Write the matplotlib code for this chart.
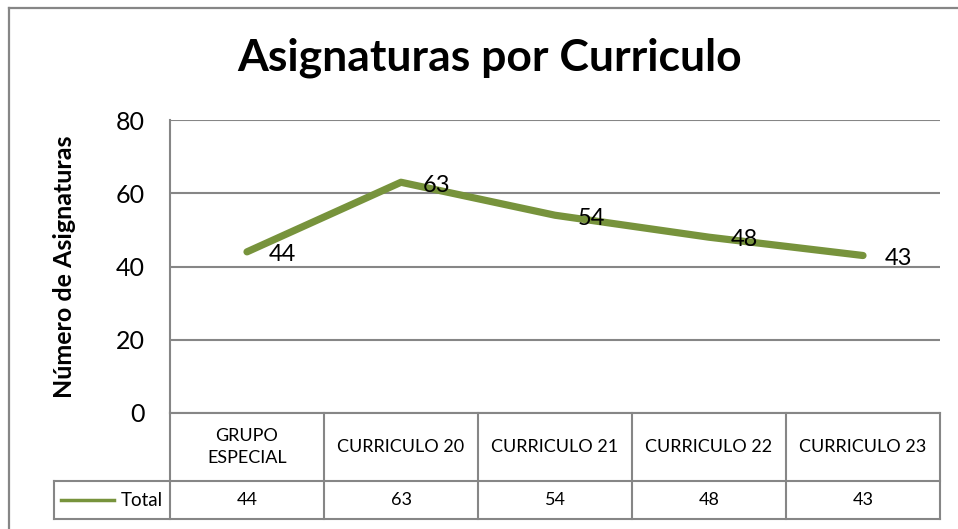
import matplotlib.pyplot as plt
from matplotlib.transforms import blended_transform_factory
from matplotlib.lines import Line2D

# --- Data ---
categories = ["GRUPO\nESPECIAL", "CURRICULO 20", "CURRICULO 21", "CURRICULO 22", "CURRICULO 23"]
totals = [44, 63, 54, 48, 43]
y_ticks = [0, 20, 40, 60, 80]
series_name = "Total"

# --- Style ---
GREEN = "#77933C"
GRID = "#868686"
W, H = 958, 529
plt.rcParams["font.family"] = ["Lato", "DejaVu Sans"]

fig = plt.figure(figsize=(W / 100, H / 100), dpi=100)

def px_rect(x0, y0, x1, y1):
    """Pixel box (top-left origin) -> figure fraction rect."""
    return [x0 / W, 1 - y1 / H, (x1 - x0) / W, (y1 - y0) / H]

# outer chart border (right/bottom are cut off in the picture)
fig.add_artist(Line2D([9 / W, 9 / W], [0, 1 - 8 / H], color=GRID, lw=1.6))
fig.add_artist(Line2D([9 / W, 1], [1 - 8 / H, 1 - 8 / H], color=GRID, lw=1.6))

ax = fig.add_axes(px_rect(170, 120, 940, 413))
x = list(range(len(categories)))
ax.plot(x, totals, color=GREEN, lw=5.2, solid_capstyle="round", solid_joinstyle="round", zorder=3)
for xi, v in zip(x, totals):
    ax.annotate(str(v), (xi, v), xytext=(16, -2), textcoords="offset points",
                ha="left", va="center", fontsize=17, color="black", zorder=4)

ax.set_xlim(-0.5, len(categories) - 0.5)
ax.set_ylim(0, 80)
ax.set_yticks(y_ticks)
ax.set_yticklabels([str(t) for t in y_ticks], fontsize=18)
ax.tick_params(axis="y", length=0, pad=18)
ax.set_xticks([])
ax.grid(axis="y", color=GRID, lw=1.5)
for side in ["top", "right", "bottom"]:
    ax.spines[side].set_visible(False)
ax.spines["left"].set_color(GRID)
ax.spines["left"].set_linewidth(1.5)
ax.set_ylabel("Número de Asignaturas", fontsize=18, fontweight="bold")
ax.yaxis.set_label_coords(-0.122, 0.5)

fig.text(490 / W, 1 - 58 / H, "Asignaturas por Curriculo", ha="center", va="center",
         fontsize=32, fontweight="bold")

# --- Data table under the axis ---
tr = blended_transform_factory(ax.transData, ax.transAxes)
r1 = -(481 - 413) / 293
r2 = -(519 - 413) / 293
left_cell = -0.5 - (170 - 54) / 154
n = len(categories)
lk = dict(color=GRID, lw=1.5, transform=tr, clip_on=False)
ax.plot([-0.5, n - 0.5], [0, 0], **lk)
ax.plot([left_cell, n - 0.5], [r1, r1], **lk)
ax.plot([left_cell, n - 0.5], [r2, r2], **lk)
ax.plot([left_cell, left_cell], [r1, r2], **lk)
for k in range(n + 1):
    ax.plot([k - 0.5, k - 0.5], [0, r2], **lk)
for xi, (c, v) in enumerate(zip(categories, totals)):
    ax.text(xi, r1 / 2, c, transform=tr, ha="center", va="center", fontsize=13,
            linespacing=1.4, clip_on=False)
    ax.text(xi, (r1 + r2) / 2, str(v), transform=tr, ha="center", va="center",
            fontsize=13, clip_on=False)

# legend key inside the left cell
key_x0 = -0.5 - (170 - 61) / 154
key_x1 = -0.5 - (170 - 114) / 154
ax.plot([key_x0, key_x1], [(r1 + r2) / 2] * 2, color=GREEN, lw=2.5, transform=tr, clip_on=False)
ax.text(-0.5 - 7 / 154, (r1 + r2) / 2, series_name, transform=tr, ha="right", va="center",
        fontsize=13.5, clip_on=False)

fig.savefig("out.png", dpi=100)
